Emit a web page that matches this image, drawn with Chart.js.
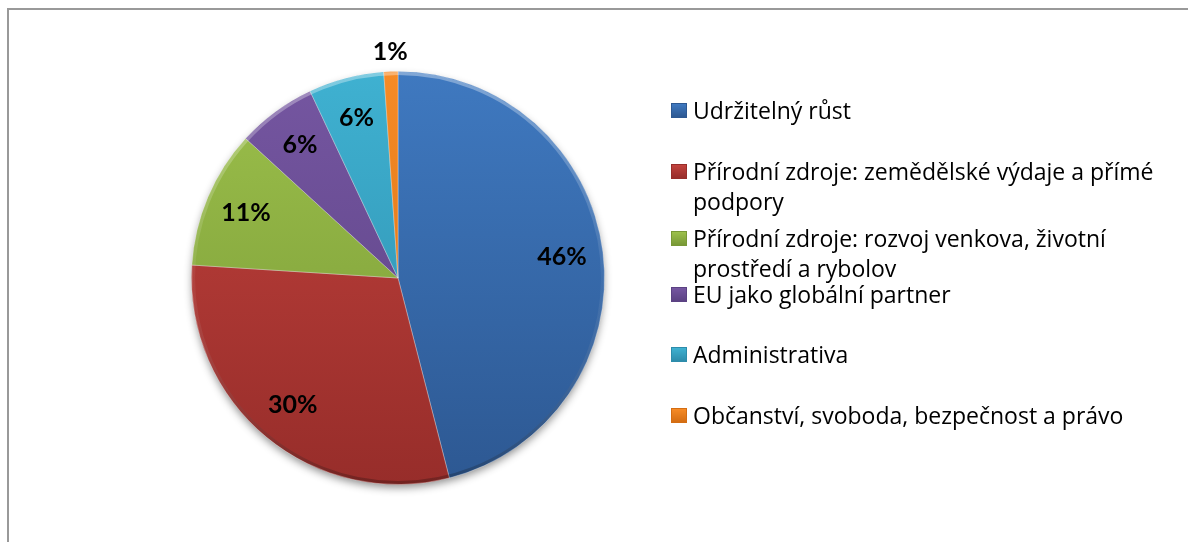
<!DOCTYPE html>
<html>
<head>
<meta charset="utf-8">
<script src="https://cdn.jsdelivr.net/npm/chart.js@4/dist/chart.umd.min.js"></script>
<style>
  body { margin: 0; background: #fff; }
  #wrap { position: relative; width: 1188px; height: 542px; overflow: hidden; }
  #frame {
    position: absolute; left: 7px; top: 8px; width: 1300px; height: 700px;
    border-left: 2px solid #999; border-top: 2px solid #999;
  }
  #chart { position: absolute; left: 0; top: 0; }
  #legend {
    position: absolute; left: 671px; top: 95px; width: 502px;
    margin: 0; padding: 0; list-style: none;
    font-family: "Open Sans", "Noto Sans", sans-serif; font-size: 23px; line-height: 30px; color: #000;
  }
  #legend li { position: relative; padding-left: 22px; }
  #legend .box {
    position: absolute; left: 0; top: 8px; width: 16px; height: 15px; box-sizing: border-box;
  }
</style>
</head>
<body>
<div id="wrap">
  <div id="frame"></div>
  <canvas id="chart" width="1188" height="542"></canvas>
  <ul id="legend"></ul>
</div>
<script>
// data
const categories = [
  'Udržitelný růst',
  'Přírodní zdroje: zemědělské výdaje a přímé podpory',
  'Přírodní zdroje: rozvoj venkova, životní prostředí a rybolov',
  'EU jako globální partner',
  'Administrativa',
  'Občanství, svoboda, bezpečnost a právo'
];
const shares = [46.0, 30.0, 10.8, 6.2, 5.9, 1.1];

// styles
const topColors = ['#3f79c0', '#c2423d', '#9cc04b', '#7556a1', '#3fb1d1', '#f68b26'];
const bottomColors = ['#2d5892', '#972d2a', '#789836', '#5b4283', '#2d8cab', '#d46d12'];
const legendPitch = [60.5, 67, 56, 60, 61];

const total = shares.reduce((a, b) => a + b, 0);

function sliceFill(context) {
  const chart = context.chart;
  const area = chart.chartArea;
  const i = context.dataIndex;
  if (!area) return topColors[i];
  const g = chart.ctx.createLinearGradient(0, area.top, 0, area.bottom);
  g.addColorStop(0, topColors[i]);
  g.addColorStop(1, bottomColors[i]);
  return g;
}

// soft shadow under the pie
const pieShadow = {
  id: 'pieShadow',
  beforeDatasetsDraw(chart) {
    const arc = chart.getDatasetMeta(0).data[0];
    if (!arc) return;
    const { x, y, outerRadius } = arc.getProps(['x', 'y', 'outerRadius'], true);
    const ctx = chart.ctx;
    ctx.save();
    ctx.shadowColor = 'rgba(0,0,0,0.45)';
    ctx.shadowBlur = 8;
    ctx.shadowOffsetY = 4;
    ctx.beginPath();
    ctx.arc(x, y, outerRadius - 1, 0, Math.PI * 2);
    ctx.fillStyle = '#888';
    ctx.fill();
    ctx.restore();
  }
};

// bevel rim + percent labels
const pieLabels = {
  id: 'pieLabels',
  afterDatasetsDraw(chart) {
    const ctx = chart.ctx;
    const meta = chart.getDatasetMeta(0);
    const c = meta.data[0].getProps(['x', 'y', 'outerRadius'], true);

    ctx.save();
    const rim = ctx.createLinearGradient(0, c.y - c.outerRadius, 0, c.y + c.outerRadius);
    rim.addColorStop(0, 'rgba(255,255,255,0.35)');
    rim.addColorStop(0.5, 'rgba(255,255,255,0.05)');
    rim.addColorStop(1, 'rgba(0,0,0,0.25)');
    ctx.strokeStyle = rim;
    ctx.lineWidth = 3;
    ctx.beginPath();
    ctx.arc(c.x, c.y, c.outerRadius - 2, 0, Math.PI * 2);
    ctx.stroke();
    ctx.restore();

    ctx.save();
    ctx.font = 'bold 25px Lato, "Liberation Sans", sans-serif';
    ctx.fillStyle = '#000';
    ctx.textAlign = 'center';
    ctx.textBaseline = 'middle';
    meta.data.forEach((arc, i) => {
      const p = arc.getProps(['x', 'y', 'startAngle', 'endAngle', 'outerRadius'], true);
      const mid = (p.startAngle + p.endAngle) / 2;
      const pct = shares[i] / total * 100;
      const r = pct < 3 ? p.outerRadius + 20 : p.outerRadius * 0.8;
      ctx.fillText(Math.round(pct) + '%', p.x + Math.cos(mid) * r, p.y + Math.sin(mid) * r);
    });
    ctx.restore();
  }
};

const chart = new Chart(document.getElementById('chart'), {
  type: 'pie',
  data: {
    labels: categories,
    datasets: [{
      data: shares,
      backgroundColor: sliceFill,
      borderColor: 'rgba(255,255,255,0.3)',
      borderWidth: 1
    }]
  },
  options: {
    responsive: false,
    animation: false,
    layout: { padding: { left: 191, right: 583, top: 71, bottom: 57 } },
    plugins: {
      legend: { display: false },
      tooltip: { enabled: false }
    }
  },
  plugins: [pieShadow, pieLabels]
});

// html legend
const legendEl = document.getElementById('legend');
categories.forEach((name, i) => {
  const li = document.createElement('li');
  if (i < legendPitch.length) li.style.height = legendPitch[i] + 'px';
  const box = document.createElement('span');
  box.className = 'box';
  box.style.background = `linear-gradient(to bottom, ${topColors[i]}, ${bottomColors[i]})`;
  box.style.border = `1px solid ${bottomColors[i]}`;
  li.appendChild(box);
  li.appendChild(document.createTextNode(name));
  legendEl.appendChild(li);
});
</script>
</body>
</html>
